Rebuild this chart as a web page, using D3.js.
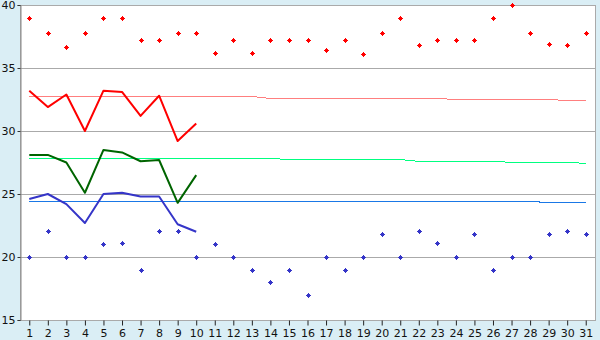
<!DOCTYPE html>
<html>
<head>
<meta charset="utf-8">
<script src="https://cdn.jsdelivr.net/npm/d3@7"></script>
<style>
  html, body { margin: 0; padding: 0; background: #daeef5; }
  svg { display: block; }
  text { font-family: "DejaVu Sans", Verdana, sans-serif; font-size: 11px; fill: #111; }
</style>
</head>
<body>
<svg id="chart" width="600" height="340"></svg>
<script>
// ---- data ----
const days = d3.range(1, 32);
const yTicks = [15, 20, 25, 30, 35, 40];

// daily extremes (markers)
const maxPoints = [39, 37.8, 36.7, 37.8, 39, 39, 37.2, 37.2, 37.8, 37.8,
                   36.2, 37.2, 36.2, 37.2, 37.2, 37.2, 36.4, 37.2, 36.1, 37.8,
                   39, 36.8, 37.2, 37.2, 37.2, 39, 40, 37.8, 36.9, 36.8, 37.8];
const minPoints = [20, 22.1, 20, 20, 21, 21.1, 19, 22.1, 22.1, 20,
                   21, 20, 19, 18, 19, 17, 20, 19, 20, 21.8,
                   20, 22.1, 21.1, 20, 21.8, 19, 20, 20, 21.8, 22.1, 21.8];

// observed lines (first 10 days)
const maxLine = [33.2, 31.9, 32.9, 30.0, 33.2, 33.1, 31.2, 32.8, 29.2, 30.6];
const meanLine = [28.1, 28.1, 27.5, 25.1, 28.5, 28.3, 27.6, 27.7, 24.3, 26.5];
const minLine = [24.6, 25.0, 24.2, 22.7, 25.0, 25.1, 24.8, 24.8, 22.6, 22.0];

// normals (full month)
const maxNormal = [32.74, 32.74, 32.74, 32.74, 32.74, 32.74, 32.74, 32.74, 32.74, 32.74,
                   32.74, 32.74, 32.74, 32.58, 32.58, 32.58, 32.58, 32.58, 32.58, 32.58,
                   32.58, 32.58, 32.58, 32.50, 32.50, 32.50, 32.50, 32.50, 32.50, 32.42, 32.42];
const meanNormal = [27.82, 27.82, 27.82, 27.82, 27.82, 27.82, 27.82, 27.82, 27.82, 27.82,
                    27.82, 27.82, 27.82, 27.82, 27.74, 27.74, 27.74, 27.74, 27.74, 27.74,
                    27.74, 27.59, 27.59, 27.59, 27.59, 27.59, 27.51, 27.51, 27.51, 27.51, 27.43];
const minNormal = [24.40, 24.40, 24.40, 24.40, 24.40, 24.40, 24.40, 24.40, 24.40, 24.40,
                   24.40, 24.40, 24.40, 24.40, 24.40, 24.40, 24.40, 24.40, 24.40, 24.40,
                   24.40, 24.40, 24.40, 24.40, 24.40, 24.40, 24.40, 24.40, 24.33, 24.33, 24.33];

// ---- drawing ----
const svg = d3.select("#chart");
const L = 20, R = 595, T = 5, B = 320;

const x = d3.scalePoint().domain(days).range([L, R]).padding(0.5);
const y = d3.scaleLinear().domain([15, 40]).range([B, T]);

// plot background
svg.append("rect").attr("x", L).attr("y", T).attr("width", R - L).attr("height", B - T)
  .attr("fill", "#fff");

// grid lines
svg.append("g").selectAll("line").data(yTicks.filter(v => v > 15 && v < 40)).join("line")
  .attr("x1", L).attr("x2", R)
  .attr("y1", d => Math.round(y(d)) + 0.5).attr("y2", d => Math.round(y(d)) + 0.5)
  .attr("stroke", "#aaa").attr("stroke-width", 1).attr("shape-rendering", "crispEdges");

// border
svg.append("rect").attr("x", L + 0.5).attr("y", T + 0.5).attr("width", R - L).attr("height", B - T)
  .attr("fill", "none").attr("stroke", "#aaa").attr("shape-rendering", "crispEdges");

// axes
const yAxis = d3.axisLeft(y).tickValues(yTicks).tickSize(3).tickPadding(2).tickFormat(d3.format("d"));
const gy = svg.append("g").attr("transform", `translate(${L + 0.5},0)`).call(yAxis);
gy.select(".domain").attr("stroke", "#888");
gy.selectAll(".tick line").attr("stroke", "#333");
gy.selectAll("text").attr("font-size", 11).attr("font-family", "DejaVu Sans, Verdana, sans-serif").attr("fill", "#111");

const xAxis = d3.axisBottom(x).tickSize(5).tickPadding(4);
const gx = svg.append("g").attr("transform", `translate(0,${B + 0.5})`).call(xAxis);
gx.select(".domain").remove();
gx.selectAll(".tick line").attr("stroke", "#222");
gx.selectAll("text").attr("font-size", 11).attr("font-family", "DejaVu Sans, Verdana, sans-serif").attr("fill", "#111");

// normals
const line = d3.line().x((d, i) => x(days[i])).y(d => y(d));
function drawLine(data, color, width, crisp) {
  svg.append("path").datum(data).attr("d", line)
    .attr("fill", "none").attr("stroke", color).attr("stroke-width", width)
    .attr("stroke-linejoin", "round")
    .attr("shape-rendering", crisp ? "crispEdges" : "auto");
}
drawLine(maxNormal, "#ff7f7f", 1, true);
drawLine(meanNormal, "#00ff80", 1, true);
drawLine(minNormal, "#1a78e6", 1, true);

// observed
drawLine(maxLine, "#ff0000", 2);
drawLine(meanLine, "#006400", 2);
drawLine(minLine, "#3535c8", 2);

// markers
const plus = "M-0.5,-2.5H0.5V-1.5H1.5V-0.5H2.5V0.5H1.5V1.5H0.5V2.5H-0.5V1.5H-1.5V0.5H-2.5V-0.5H-1.5V-1.5H-0.5Z";
function drawMarkers(data, color) {
  svg.append("g").selectAll("path").data(data).join("path")
    .attr("d", plus).attr("fill", color).attr("shape-rendering", "crispEdges")
    .attr("transform", (d, i) => `translate(${Math.round(x(days[i])) + 0.5},${Math.round(y(d)) + 0.5})`);
}
drawMarkers(maxPoints, "#ff0000");
drawMarkers(minPoints, "#3535c8");
</script>
</body>
</html>
